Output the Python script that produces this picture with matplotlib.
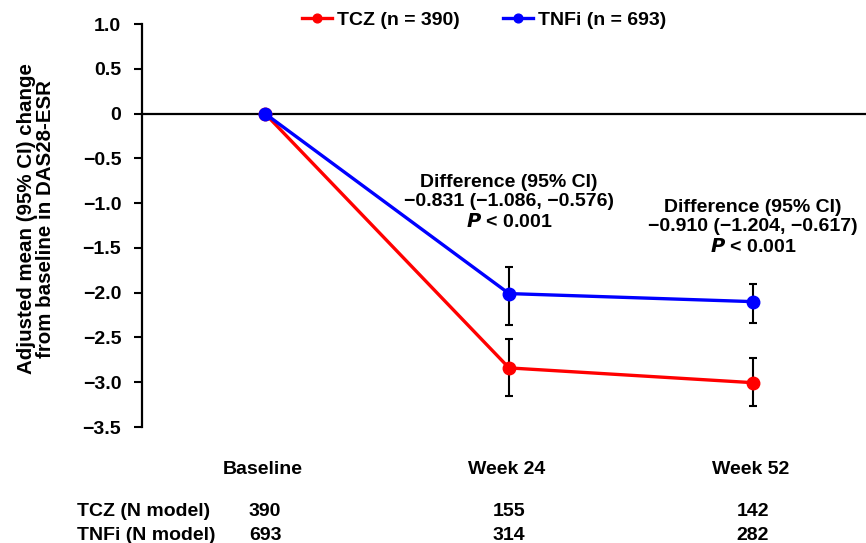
import matplotlib
matplotlib.use('Agg')
import matplotlib.pyplot as plt
import matplotlib.transforms as mtransforms
import numpy as np

plt.rcParams['font.family'] = ['Liberation Sans', 'DejaVu Sans']
plt.rcParams['font.weight'] = 'bold'
plt.rcParams['axes.unicode_minus'] = True

# data
timepoints = ['Baseline', 'Week 24', 'Week 52']
tcz_mean = [0.0, -2.84, -3.005]
tcz_lo = [0.0, -3.15, -3.27]
tcz_hi = [0.0, -2.52, -2.73]
tnfi_mean = [0.0, -2.01, -2.10]
tnfi_lo = [0.0, -2.36, -2.34]
tnfi_hi = [0.0, -1.715, -1.905]
tcz_n = [390, 155, 142]
tnfi_n = [693, 314, 282]
diff_text = ['Difference (95% CI)\n\u22120.831 (\u22121.086, \u22120.576)\n$\\bf{\\it{P}}$ < 0.001',
             'Difference (95% CI)\n\u22120.910 (\u22121.204, \u22120.617)\n$\\bf{\\it{P}}$ < 0.001']
yticks = [1.0, 0.5, 0, -0.5, -1.0, -1.5, -2.0, -2.5, -3.0, -3.5]
ytick_labels = ['1.0', '0.5', '0', '\u22120.5', '\u22121.0', '\u22121.5', '\u22122.0', '\u22122.5', '\u22123.0', '\u22123.5']

FS = 14


def draw():
    fig = plt.figure(figsize=(8.66, 5.43), dpi=100)
    ax = fig.add_axes([0.164, 0.2136, 0.836, 0.7422])
    x = np.arange(len(timepoints))

    for mean, lo, hi, col, lab in [(tcz_mean, tcz_lo, tcz_hi, '#ff0000', 'TCZ (n = 390)'),
                                   (tnfi_mean, tnfi_lo, tnfi_hi, '#0000ff', 'TNFi (n = 693)')]:
        mean = np.array(mean)
        yerr = [mean - np.array(lo), np.array(hi) - mean]
        ax.errorbar(x[1:], mean[1:], yerr=[yerr[0][1:], yerr[1][1:]], fmt='none',
                    ecolor='black', elinewidth=1.5, capsize=3, capthick=1.5, zorder=2)
        ax.plot(x, mean, color=col, lw=2.4, marker='o', ms=9, label=lab, zorder=3)

    ax.set_xlim(-0.504, 2.463)
    ax.set_ylim(-3.5, 1.0)
    ax.set_yticks(yticks)
    ax.set_yticklabels(ytick_labels, fontsize=FS, fontweight='bold')
    ax.tick_params(axis='y', direction='out', length=6, width=1.5, pad=9)
    ax.set_xticks([])
    for s in ['top', 'right']:
        ax.spines[s].set_visible(False)
    ax.spines['bottom'].set_position(('data', 0))
    ax.spines['bottom'].set_linewidth(1.6)
    ax.spines['left'].set_linewidth(1.6)

    fig.text(36 / 866, 1 - 219 / 543, 'Adjusted mean (95% CI) change\nfrom baseline in DAS28-ESR',
             rotation=90, ha='center', va='center', fontsize=14.8, fontweight='bold',
             linespacing=1.05)

    # difference annotations
    ax.text(1, -0.993, diff_text[0], ha='center', va='center', fontsize=FS,
            fontweight='bold', linespacing=1.22)
    ax.text(2, -1.272, diff_text[1], ha='center', va='center', fontsize=FS,
            fontweight='bold', linespacing=1.22)

    # x labels and N table below the axes
    tr = mtransforms.blended_transform_factory(ax.transData, fig.transFigure)
    for i, lab in enumerate(timepoints):
        ax.text(x[i] - 0.01, 1 - 469 / 543, lab, transform=tr, ha='center', va='center',
                fontsize=FS, fontweight='bold')
        ax.text(x[i], 1 - 512 / 543, str(tcz_n[i]), transform=tr, ha='center',
                va='center', fontsize=FS, fontweight='bold')
        ax.text(x[i], 1 - 535 / 543, str(tnfi_n[i]), transform=tr, ha='center',
                va='center', fontsize=FS, fontweight='bold')
    fig.text(77 / 866, 1 - 512 / 543, 'TCZ (N model)', ha='left', va='center',
             fontsize=FS, fontweight='bold')
    fig.text(77 / 866, 1 - 535 / 543, 'TNFi (N model)', ha='left', va='center',
             fontsize=FS, fontweight='bold')

    ax.legend(loc='center', bbox_to_anchor=(484 / 866, 1 - 20 / 543),
              bbox_transform=fig.transFigure, ncol=2, frameon=False,
              fontsize=FS, handlelength=1.55, handletextpad=0.26,
              columnspacing=2.2, markerscale=0.7, borderpad=0)

    fig.savefig('out.png', dpi=100)


if __name__ == '__main__':
    draw()
